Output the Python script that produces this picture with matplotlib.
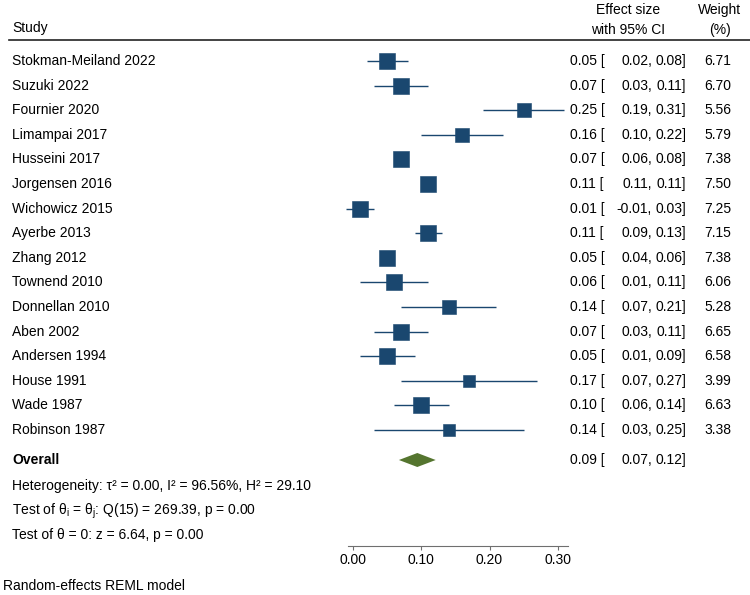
import numpy as np
import matplotlib
matplotlib.use('Agg')
import matplotlib.pyplot as plt

plt.rcParams['font.family'] = ['Liberation Sans', 'DejaVu Sans']
plt.rcParams['mathtext.fontset'] = 'custom'
plt.rcParams['mathtext.rm'] = 'Liberation Sans'
plt.rcParams['mathtext.it'] = 'Liberation Sans'

# Data
studies = ['Stokman-Meiland 2022', 'Suzuki 2022', 'Fournier 2020', 'Limampai 2017',
           'Husseini 2017', 'Jorgensen 2016', 'Wichowicz 2015', 'Ayerbe 2013',
           'Zhang 2012', 'Townend 2010', 'Donnellan 2010', 'Aben 2002',
           'Andersen 1994', 'House 1991', 'Wade 1987', 'Robinson 1987']
effect = [0.05, 0.07, 0.25, 0.16, 0.07, 0.11, 0.01, 0.11,
          0.05, 0.06, 0.14, 0.07, 0.05, 0.17, 0.10, 0.14]
ci_low = [0.02, 0.03, 0.19, 0.10, 0.06, 0.11, -0.01, 0.09,
          0.04, 0.01, 0.07, 0.03, 0.01, 0.07, 0.06, 0.03]
ci_high = [0.08, 0.11, 0.31, 0.22, 0.08, 0.11, 0.03, 0.13,
           0.06, 0.11, 0.21, 0.11, 0.09, 0.27, 0.14, 0.25]
weight = [6.71, 6.70, 5.56, 5.79, 7.38, 7.50, 7.25, 7.15,
          7.38, 6.06, 5.28, 6.65, 6.58, 3.99, 6.63, 3.38]
overall = [0.094, 0.067, 0.121]  # estimate, low, high
xticks = [0.0, 0.1, 0.2, 0.3]

navy = '#1a476f'
green = '#55752f'
W, H = 750, 595

def fx(px):
    return px / W

def fy(py):
    return 1 - py / H

fig = plt.figure(figsize=(7.5, 5.95), dpi=100)
ax = fig.add_axes([0, 0, 1, 1])
ax.patch.set_alpha(0)

# map: x pixel = 353.3 + 681*value ; row pixel = 61 + (row-1)*24.6
ax.set_xlim((0 - 353.3) / 681, (W - 353.3) / 681)
ax.set_ylim(1 + (H - 61) / 24.6, 1 - 61 / 24.6)

rows = np.arange(1, len(studies) + 1)
for r, es, lo, hi, w in zip(rows, effect, ci_low, ci_high, weight):
    ax.plot([lo, hi], [r, r], color=navy, lw=1.0, solid_capstyle='butt', zorder=2)
    ax.plot(es, r, marker='s', ms=4.45 * np.sqrt(w), color=navy, mec=navy, mew=0.4, zorder=3)

r_ov = 1 + (460 - 61) / 24.6
dh = 7 / 24.6
ax.fill([overall[1], overall[0], overall[2], overall[0]],
        [r_ov, r_ov - dh, r_ov, r_ov + dh], color=green, lw=0, zorder=3)

# x axis
for side in ['left', 'right', 'top']:
    ax.spines[side].set_visible(False)
ax.spines['bottom'].set_position(('data', 1 + (545.7 - 61) / 24.6))
ax.spines['bottom'].set_bounds(-0.008, 0.316)
ax.spines['bottom'].set_color('#6f6f6f')
ax.spines['bottom'].set_linewidth(0.8)
ax.set_yticks([])
ax.set_xticks(xticks)
ax.set_xticklabels(['{:.2f}'.format(t) for t in xticks])
ax.tick_params(axis='x', direction='out', length=3, width=0.8, color='#6f6f6f',
               labelsize=10, pad=2.5, labelcolor='black')

fs = 10
# header
fig.text(fx(12), fy(28), 'Study', fontsize=fs, va='center', ha='left')
fig.text(fx(628), fy(10), 'Effect size', fontsize=fs, va='center', ha='center')
fig.text(fx(628), fy(30), 'with 95% CI', fontsize=fs, va='center', ha='center')
fig.text(fx(720), fy(10), 'Weight', fontsize=fs, va='center', ha='center')
fig.text(fx(720), fy(30), '(%)', fontsize=fs, va='center', ha='center')
fig.add_artist(plt.Line2D([fx(9), 1], [fy(39.5), fy(39.5)], color='#222222', lw=1.2))

# study rows
def value_cols(y, es, lo, hi):
    fig.text(fx(570), fy(y), '{:.2f} ['.format(es), fontsize=fs, va='center', ha='left')
    fig.text(fx(652), fy(y), '{:.2f},'.format(lo), fontsize=fs, va='center', ha='right')
    fig.text(fx(686), fy(y), '{:.2f}]'.format(hi), fontsize=fs, va='center', ha='right')

for r, name, es, lo, hi, w in zip(rows, studies, effect, ci_low, ci_high, weight):
    y = 61 + (r - 1) * 24.6
    fig.text(fx(12), fy(y), name, fontsize=fs, va='center', ha='left')
    value_cols(y, es, lo, hi)
    fig.text(fx(718), fy(y), '{:.2f}'.format(w), fontsize=fs, va='center', ha='center')

fig.text(fx(12), fy(460), 'Overall', fontsize=fs, va='center', ha='left', weight='bold')
value_cols(460, *overall)

stats_lines = ['Heterogeneity: τ² = 0.00, I² = 96.56%, H² = 29.10',
               r'Test of θ$_\mathrm{i}$ = θ$_\mathrm{j}$: Q(15) = 269.39, p = 0.00',
               'Test of θ = 0: z = 6.64, p = 0.00']
for y, s in zip([485, 509.5, 534], stats_lines):
    fig.text(fx(12), fy(y + 5), s, fontsize=fs, va='baseline', ha='left')
fig.text(fx(3), fy(586), 'Random-effects REML model', fontsize=fs, va='center', ha='left')

fig.savefig('out.png', dpi=100, facecolor='white')
